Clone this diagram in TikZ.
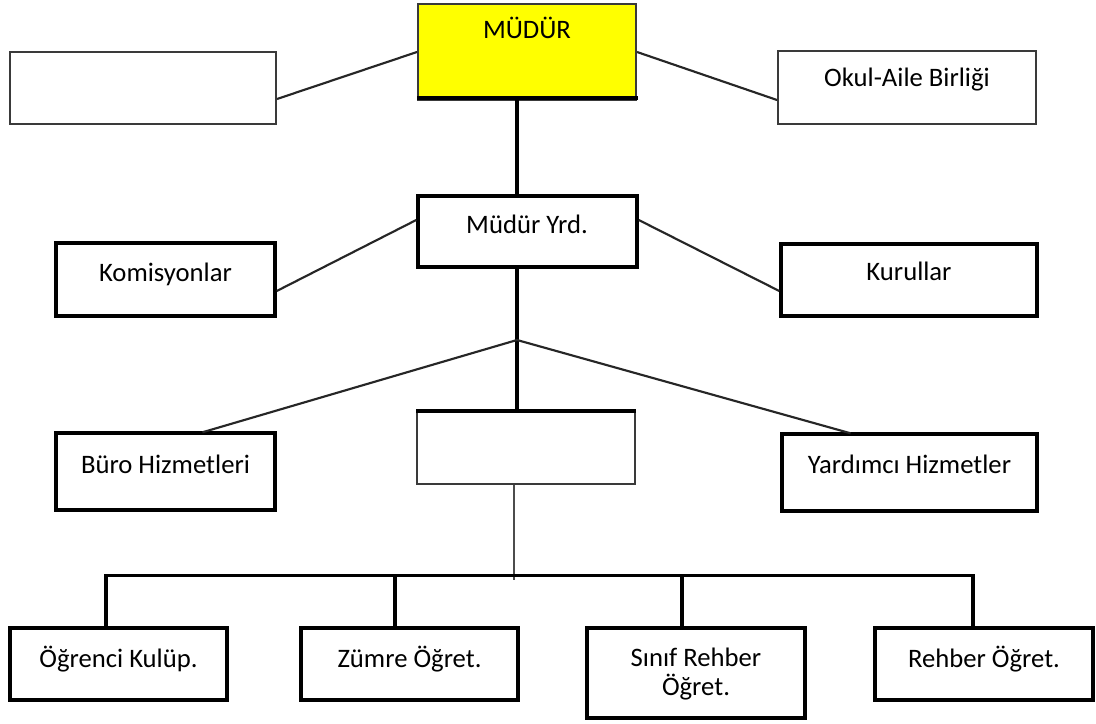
\documentclass[tikz,border=0pt]{standalone}
\usepackage{fontspec}
\setmainfont{Carlito}
\usetikzlibrary{calc}
\definecolor{boxyellow}{HTML}{FFFF00}
\definecolor{thingray}{HTML}{3A3A3A}
\begin{document}
\begin{tikzpicture}[x=0.75pt,y=-0.75pt,
  thickbox/.style={draw=black,line width=2.6pt,rectangle,inner sep=0pt},
  thinbox/.style={draw=thingray,line width=1.5pt,rectangle,inner sep=0pt},
  lbl/.style={anchor=base,inner sep=0pt,font=\fontsize{20}{23}\selectfont,text=black},
  thickline/.style={draw=black,line width=2.6pt,line join=miter},
  thinline/.style={draw=black!85,line width=1.6pt},
  grayline/.style={draw=black!70,line width=2pt}]
\useasboundingbox (0,0) rectangle (1096,724);
\fill[white] (0,0) rectangle (1096,724);

% boxes
\node[thinbox,minimum width=266*0.75pt,minimum height=72*0.75pt] (tl) at (143,88) {};
\node[thinbox,fill=boxyellow,minimum width=218*0.75pt,minimum height=96*0.75pt] (mudur) at (527,52) {};
\node[thinbox,minimum width=258*0.75pt,minimum height=73*0.75pt] (okul) at (907,87.5) {};
\node[thickbox,minimum width=219*0.75pt,minimum height=71*0.75pt] (yrd) at (527.5,231.5) {};
\node[thickbox,minimum width=219*0.75pt,minimum height=73*0.75pt] (kom) at (165.5,279.5) {};
\node[thickbox,minimum width=256*0.75pt,minimum height=72*0.75pt] (kur) at (909,280) {};
\node[thickbox,minimum width=219*0.75pt,minimum height=77*0.75pt] (buro) at (165.5,471.5) {};
\node[thickbox,minimum width=255*0.75pt,minimum height=77*0.75pt] (yard) at (909.5,472.5) {};
\node[thinbox,minimum width=218*0.75pt,minimum height=72*0.75pt] (mid) at (526,448) {};
\node[thickbox,minimum width=217*0.75pt,minimum height=72*0.75pt] (ogr) at (118.5,664) {};
\node[thickbox,minimum width=217*0.75pt,minimum height=72*0.75pt] (zum) at (409.5,664) {};
\node[thickbox,minimum width=218*0.75pt,minimum height=90*0.75pt] (sin) at (696,673) {};
\node[thickbox,minimum width=218*0.75pt,minimum height=72*0.75pt] (reh) at (984,664) {};

% extra strokes on boxes
\draw[thickline] ($(mudur.south west)+(0,-3)$) -- ($(mudur.south east)+(1,-3)$);
\draw[thickline] (mid.north west) -- (mid.north east);

% coordinates for trunks
\coordinate (tx) at (517,0);
\coordinate (gx) at (514,0);
\coordinate (br) at (517,340);
\coordinate (busy) at (0,580);

% connectors
\draw[thinline] ($(tl.east)+(0,11)$) -- (mudur.west);
\draw[thinline] (mudur.east) -- ($(okul.west)+(0,12.5)$);
\draw[thickline] ($(tx |- mudur.south)+(0,-3)$) -- (tx |- yrd.north);
\draw[thinline] ($(kom.east)+(0,11.5)$) -- ($(yrd.west)+(0,-11.5)$);
\draw[thinline] ($(yrd.east)+(0,-11.5)$) -- ($(kur.west)+(0,11)$);
\draw[thickline] (tx |- yrd.south) -- (tx |- mid.north);
\draw[thinline] (br) -- ($(buro.north)+(37,1)$);
\draw[thinline] (br) -- ($(yard.north)+(-59,1)$);
\draw[grayline] (gx |- mid.south) -- (gx |- busy);
\draw[thickline] ($(ogr.north)+(-12.5,0)$) |- ($(reh.north)+(-11,-51)$) -- ($(reh.north)+(-11,0)$);
\draw[thickline] ($(zum.north)+(-14.5,0)$) -- ++(0,-51);
\draw[thickline] ($(sin.north)+(-14,0)$) -- ++(0,-51);

% labels
\node[lbl] (tmudur) at (527,39) {MÜDÜR};
\node[lbl] (tokul) at (907,87) {Okul-Aile Birliği};
\node[lbl] (tyrd) at (527,233) {Müdür Yrd.};
\node[lbl] (tkom) at (165.5,281) {Komisyonlar};
\node[lbl] (tkur) at (909,280) {Kurullar};
\node[lbl] (tburo) at (165.5,473) {Büro Hizmetleri};
\node[lbl] (tyard) at (909.5,473) {Yardımcı Hizmetler};
\node[lbl] (togr) at (118.5,667) {Öğrenci Kulüp.};
\node[lbl] (tzum) at (409.5,667) {Zümre Öğret.};
\node[lbl] (tsin1) at (696,666) {Sınıf Rehber};
\node[lbl] (tsin2) at (696,695) {Öğret.};
\node[lbl] (treh) at (984,667) {Rehber Öğret.};
\end{tikzpicture}
\end{document}
